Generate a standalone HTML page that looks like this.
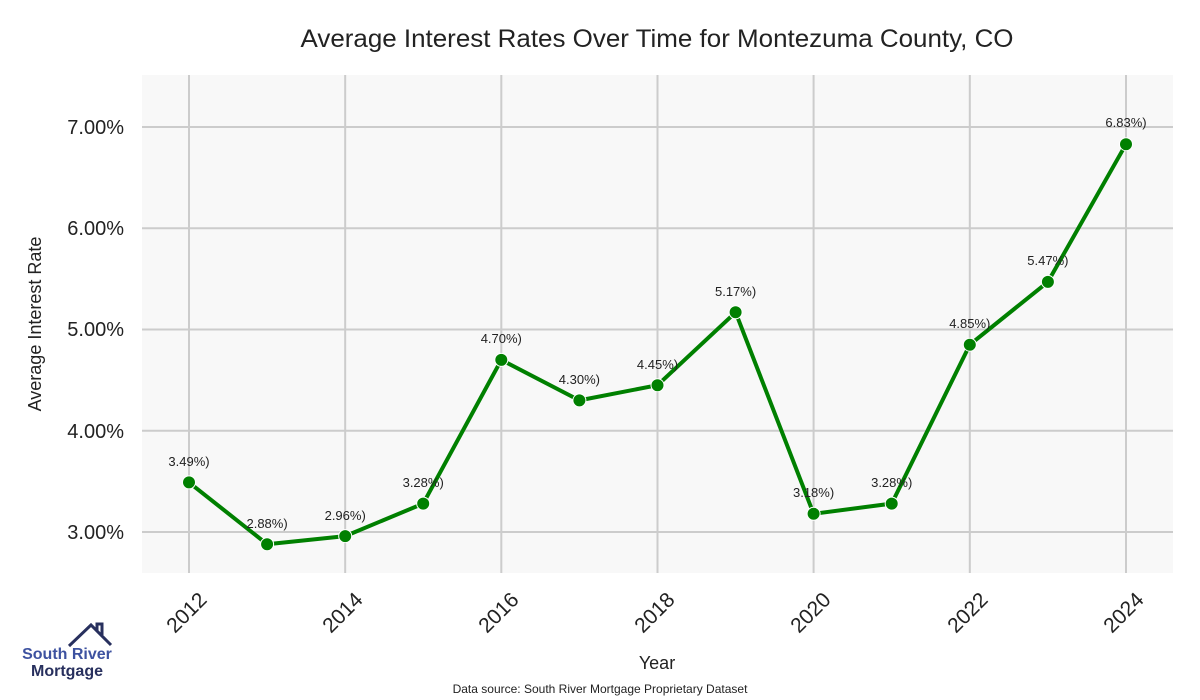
<!DOCTYPE html>
<html><head><meta charset="utf-8"><style>body{margin:0;background:#fff}svg{display:block;font-family:"Liberation Sans",sans-serif}</style></head><body>
<svg width="1200" height="700" viewBox="0 0 1200 700">
<text x="657" y="47" text-anchor="middle" font-size="25" fill="#222" textLength="713" lengthAdjust="spacingAndGlyphs">Average Interest Rates Over Time for Montezuma County, CO</text>
<rect x="142" y="75" width="1031" height="498" fill="#f8f8f8"/>
<g stroke="#cccccc" stroke-width="2">
<line x1="142" x2="1173" y1="127" y2="127"/><line x1="142" x2="1173" y1="228.25" y2="228.25"/><line x1="142" x2="1173" y1="329.5" y2="329.5"/><line x1="142" x2="1173" y1="430.75" y2="430.75"/><line x1="142" x2="1173" y1="532" y2="532"/>
<line y1="75" y2="573" x1="189" x2="189"/><line y1="75" y2="573" x1="345.2" x2="345.2"/><line y1="75" y2="573" x1="501.3" x2="501.3"/><line y1="75" y2="573" x1="657.5" x2="657.5"/><line y1="75" y2="573" x1="813.6" x2="813.6"/><line y1="75" y2="573" x1="969.8" x2="969.8"/><line y1="75" y2="573" x1="1126" x2="1126"/>
</g>
<g font-size="20" fill="#222" text-anchor="end">
<text x="124" y="134">7.00%</text><text x="124" y="235">6.00%</text><text x="124" y="336">5.00%</text><text x="124" y="438">4.00%</text><text x="124" y="539">3.00%</text>
</g>
<g font-size="21" fill="#222" text-anchor="end">
<text transform="translate(208,601) rotate(-45)">2012</text>
<text transform="translate(364,601) rotate(-45)">2014</text>
<text transform="translate(520,601) rotate(-45)">2016</text>
<text transform="translate(676,601) rotate(-45)">2018</text>
<text transform="translate(832,601) rotate(-45)">2020</text>
<text transform="translate(989,601) rotate(-45)">2022</text>
<text transform="translate(1145,601) rotate(-45)">2024</text>
</g>
<text x="657" y="669" text-anchor="middle" font-size="18" fill="#222">Year</text>
<text transform="translate(41,324) rotate(-90)" text-anchor="middle" font-size="18" fill="#222">Average Interest Rate</text>
<text x="600" y="693" text-anchor="middle" font-size="12" fill="#222">Data source: South River Mortgage Proprietary Dataset</text>
<polyline fill="none" stroke="#008000" stroke-width="4" stroke-linejoin="round" points="189,482.4 267.1,544.2 345.2,536.1 423.2,503.6 501.3,359.9 579.4,400.4 657.5,385.2 735.6,312.3 813.6,513.8 891.7,503.6 969.8,344.7 1047.9,281.9 1126,144.2"/>
<g fill="#008000" stroke="#fff" stroke-width="1">
<circle cx="189" cy="482.4" r="6.5"/><circle cx="267.1" cy="544.2" r="6.5"/><circle cx="345.2" cy="536.1" r="6.5"/><circle cx="423.2" cy="503.6" r="6.5"/><circle cx="501.3" cy="359.9" r="6.5"/><circle cx="579.4" cy="400.4" r="6.5"/><circle cx="657.5" cy="385.2" r="6.5"/><circle cx="735.6" cy="312.3" r="6.5"/><circle cx="813.6" cy="513.8" r="6.5"/><circle cx="891.7" cy="503.6" r="6.5"/><circle cx="969.8" cy="344.7" r="6.5"/><circle cx="1047.9" cy="281.9" r="6.5"/><circle cx="1126" cy="144.2" r="6.5"/>
</g>
<g font-size="13" fill="#222" text-anchor="middle">
<text x="189" y="466">3.49%)</text><text x="267.1" y="528">2.88%)</text><text x="345.2" y="520">2.96%)</text><text x="423.2" y="487">3.28%)</text><text x="501.3" y="343">4.70%)</text><text x="579.4" y="384">4.30%)</text><text x="657.5" y="369">4.45%)</text><text x="735.6" y="296">5.17%)</text><text x="813.6" y="497">3.18%)</text><text x="891.7" y="487">3.28%)</text><text x="969.8" y="328">4.85%)</text><text x="1047.9" y="265">5.47%)</text><text x="1126" y="127">6.83%)</text>
</g>
<polyline points="69,646 91,625 111,645" fill="none" stroke="#28305e" stroke-width="3"/>
<polyline points="97,631 97,624 102,624 102,635" fill="none" stroke="#28305e" stroke-width="3"/>
<text x="67" y="659" text-anchor="middle" font-size="16" font-weight="bold" fill="#3d52a0">South River</text>
<text x="67" y="676" text-anchor="middle" font-size="16" font-weight="bold" fill="#28305e">Mortgage</text>
</svg>
</body></html>
